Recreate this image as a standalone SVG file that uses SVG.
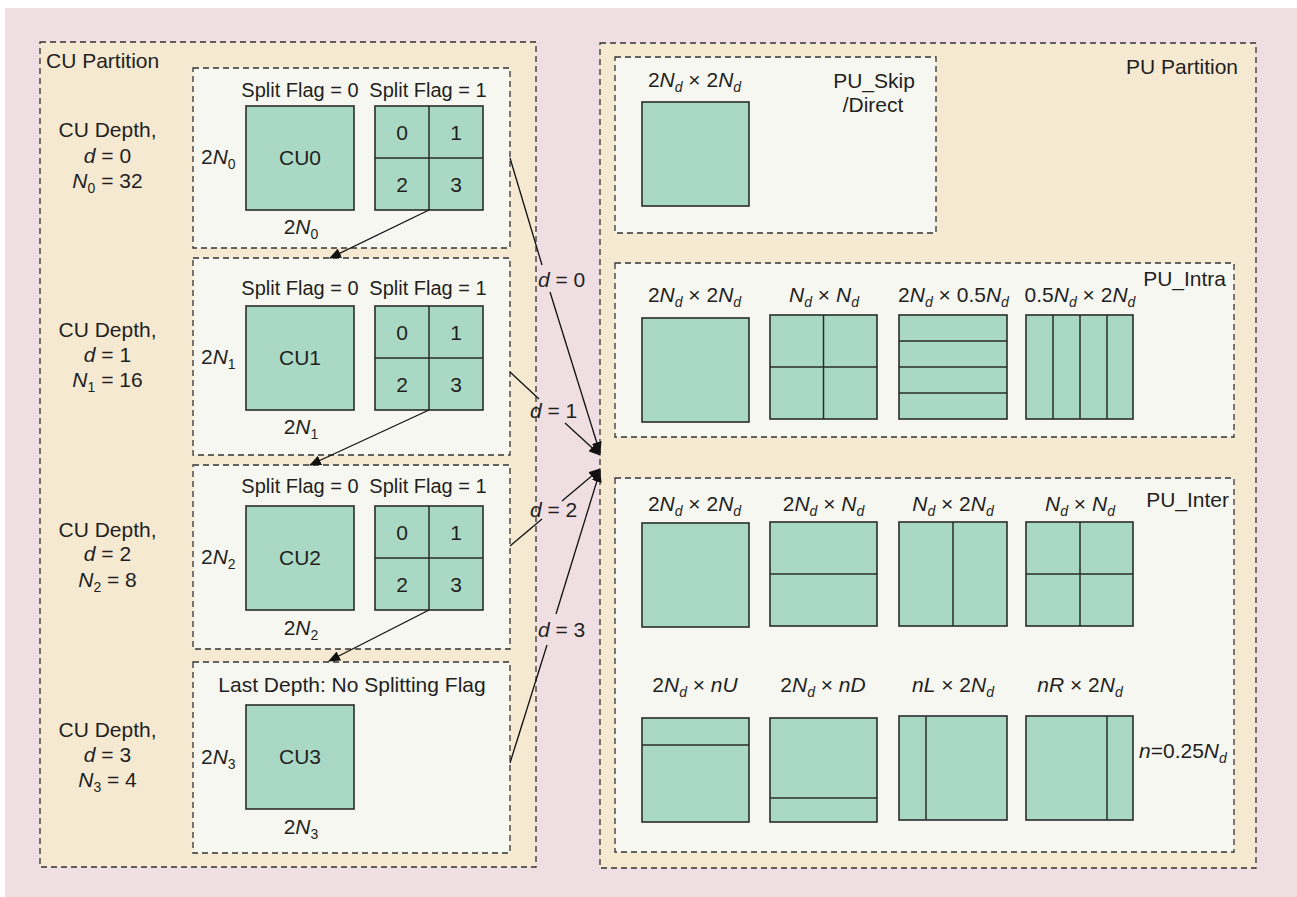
<svg xmlns="http://www.w3.org/2000/svg" width="1297" height="897" viewBox="0 0 1297 897">
<style>
text{font-family:"Liberation Sans",Arial,sans-serif;font-size:21px;fill:#231f20}
.m{text-anchor:middle}
.e{text-anchor:end}
.f20{font-size:20px}
.i{font-style:italic}
.s{font-size:14px}
.si{font-size:14px;font-style:italic}
.outer{fill:#f6e9d2;stroke:#333;stroke-width:1.3;stroke-dasharray:6 4}
.inner{fill:#f7f7f2;stroke:#333;stroke-width:1.3;stroke-dasharray:6 4}
.sq{fill:#a9d9c5;stroke:#2b2b2b;stroke-width:1.6}
.dl{stroke:#2b2b2b;stroke-width:1.5;fill:none}
.cn{stroke:#111;stroke-width:1.3;fill:none}
</style>
<defs>
<marker id="ah" markerWidth="12" markerHeight="10" refX="11" refY="5" orient="auto" markerUnits="userSpaceOnUse">
<path d="M0,0 L12,5 L0,10 Z" fill="#111"/>
</marker>
</defs>
<rect x="5" y="8" width="1292" height="889" fill="#efdfe3"/>

<g id="cu-partition">
<rect class="outer" x="40" y="42" width="496" height="825"/>
<text x="46" y="68">CU Partition</text>
</g>

<g id="cu-depth0">
<text class="m" x="107.5" y="137">CU Depth,</text>
<text class="m" x="107.5" y="163"><tspan class="i">d</tspan> = 0</text>
<text class="m" x="107.5" y="188"><tspan class="i">N</tspan><tspan class="s" dy="5">0</tspan><tspan dy="-5"> = 32</tspan></text>
<rect class="inner" x="193" y="68" width="317" height="180"/>
<text class="m f20" x="300" y="97">Split Flag = 0</text>
<text class="m f20" x="428" y="97">Split Flag = 1</text>
<rect class="sq" x="246" y="106" width="108" height="104"/>
<text class="m" x="300" y="165">CU0</text>
<rect class="sq" x="375" y="106" width="108" height="104"/>
<path class="dl" d="M429,106V210M375,158H483"/>
<text class="m" x="402" y="139.5">0</text>
<text class="m" x="456" y="139.5">1</text>
<text class="m" x="402" y="191.5">2</text>
<text class="m" x="456" y="191.5">3</text>
<text x="201" y="164">2<tspan class="i">N</tspan><tspan class="s" dy="5">0</tspan></text>
<text class="m" x="301" y="234">2<tspan class="i">N</tspan><tspan class="s" dy="5">0</tspan></text>
</g>

<g id="cu-depth1">
<text class="m" x="107.5" y="337">CU Depth,</text>
<text class="m" x="107.5" y="362"><tspan class="i">d</tspan> = 1</text>
<text class="m" x="107.5" y="387"><tspan class="i">N</tspan><tspan class="s" dy="5">1</tspan><tspan dy="-5"> = 16</tspan></text>
<rect class="inner" x="193" y="258" width="317" height="197"/>
<text class="m f20" x="300" y="295">Split Flag = 0</text>
<text class="m f20" x="428" y="295">Split Flag = 1</text>
<rect class="sq" x="246" y="306" width="108" height="104"/>
<text class="m" x="300" y="365">CU1</text>
<rect class="sq" x="375" y="306" width="108" height="104"/>
<path class="dl" d="M429,306V410M375,358H483"/>
<text class="m" x="402" y="339.5">0</text>
<text class="m" x="456" y="339.5">1</text>
<text class="m" x="402" y="391.5">2</text>
<text class="m" x="456" y="391.5">3</text>
<text x="201" y="364">2<tspan class="i">N</tspan><tspan class="s" dy="5">1</tspan></text>
<text class="m" x="301" y="434">2<tspan class="i">N</tspan><tspan class="s" dy="5">1</tspan></text>
</g>

<g id="cu-depth2">
<text class="m" x="107.5" y="537">CU Depth,</text>
<text class="m" x="107.5" y="561"><tspan class="i">d</tspan> = 2</text>
<text class="m" x="107.5" y="587"><tspan class="i">N</tspan><tspan class="s" dy="5">2</tspan><tspan dy="-5"> = 8</tspan></text>
<rect class="inner" x="193" y="465" width="317" height="184"/>
<text class="m f20" x="300" y="493">Split Flag = 0</text>
<text class="m f20" x="428" y="493">Split Flag = 1</text>
<rect class="sq" x="246" y="506" width="108" height="104"/>
<text class="m" x="300" y="565">CU2</text>
<rect class="sq" x="375" y="506" width="108" height="104"/>
<path class="dl" d="M429,506V610M375,558H483"/>
<text class="m" x="402" y="539.5">0</text>
<text class="m" x="456" y="539.5">1</text>
<text class="m" x="402" y="591.5">2</text>
<text class="m" x="456" y="591.5">3</text>
<text x="201" y="564">2<tspan class="i">N</tspan><tspan class="s" dy="5">2</tspan></text>
<text class="m" x="301" y="635">2<tspan class="i">N</tspan><tspan class="s" dy="5">2</tspan></text>
</g>

<g id="cu-depth3">
<text class="m" x="107.5" y="737">CU Depth,</text>
<text class="m" x="107.5" y="762"><tspan class="i">d</tspan> = 3</text>
<text class="m" x="107.5" y="787"><tspan class="i">N</tspan><tspan class="s" dy="5">3</tspan><tspan dy="-5"> = 4</tspan></text>
<rect class="inner" x="193" y="662" width="317" height="191"/>
<text class="m" x="352" y="692">Last Depth: No Splitting Flag</text>
<rect class="sq" x="246" y="705" width="108" height="104"/>
<text class="m" x="300" y="764">CU3</text>
<text x="201" y="764">2<tspan class="i">N</tspan><tspan class="s" dy="5">3</tspan></text>
<text class="m" x="301" y="834">2<tspan class="i">N</tspan><tspan class="s" dy="5">3</tspan></text>
</g>

<g id="pu-partition">
<rect class="outer" x="600" y="43" width="656" height="825"/>
<text class="e" x="1238" y="74">PU Partition</text>
</g>

<g id="pu-skip">
<rect class="inner" x="615" y="57" width="321" height="176"/>
<text class="m" x="694.5" y="87">2<tspan class="i">N</tspan><tspan class="si" dy="5">d</tspan><tspan dy="-5"> × 2</tspan><tspan class="i">N</tspan><tspan class="si" dy="5">d</tspan></text>
<text class="m" x="874" y="88">PU_Skip</text>
<text class="m" x="873" y="112">/Direct</text>
<rect class="sq" x="642" y="102" width="107" height="104"/>
</g>

<g id="pu-intra">
<rect class="inner" x="615" y="263" width="619" height="174"/>
<text class="e" x="1226" y="286">PU_Intra</text>
<text class="m" x="694.5" y="302">2<tspan class="i">N</tspan><tspan class="si" dy="5">d</tspan><tspan dy="-5"> × 2</tspan><tspan class="i">N</tspan><tspan class="si" dy="5">d</tspan></text>
<text class="m" x="824" y="302"><tspan class="i">N</tspan><tspan class="si" dy="5">d</tspan><tspan dy="-5"> × </tspan><tspan class="i">N</tspan><tspan class="si" dy="5">d</tspan></text>
<text class="m" x="953.5" y="302">2<tspan class="i">N</tspan><tspan class="si" dy="5">d</tspan><tspan dy="-5"> × 0.5</tspan><tspan class="i">N</tspan><tspan class="si" dy="5">d</tspan></text>
<text class="m" x="1080" y="302">0.5<tspan class="i">N</tspan><tspan class="si" dy="5">d</tspan><tspan dy="-5"> × 2</tspan><tspan class="i">N</tspan><tspan class="si" dy="5">d</tspan></text>
<rect class="sq" x="642" y="318" width="107" height="104"/>
<rect class="sq" x="770" y="315" width="107" height="104"/>
<path class="dl" d="M823.5,315V419M770,367H877"/>
<rect class="sq" x="899" y="315" width="108" height="104"/>
<path class="dl" d="M899,341H1007M899,367H1007M899,393H1007"/>
<rect class="sq" x="1026" y="315" width="107" height="104"/>
<path class="dl" d="M1053,315V419M1080,315V419M1107,315V419"/>
</g>

<g id="pu-inter">
<rect class="inner" x="615" y="478" width="619" height="374"/>
<text class="e" x="1229" y="507">PU_Inter</text>
<text class="m" x="694.5" y="511">2<tspan class="i">N</tspan><tspan class="si" dy="5">d</tspan><tspan dy="-5"> × 2</tspan><tspan class="i">N</tspan><tspan class="si" dy="5">d</tspan></text>
<text class="m" x="823.5" y="511">2<tspan class="i">N</tspan><tspan class="si" dy="5">d</tspan><tspan dy="-5"> × </tspan><tspan class="i">N</tspan><tspan class="si" dy="5">d</tspan></text>
<text class="m" x="953" y="511"><tspan class="i">N</tspan><tspan class="si" dy="5">d</tspan><tspan dy="-5"> × 2</tspan><tspan class="i">N</tspan><tspan class="si" dy="5">d</tspan></text>
<text class="m" x="1080" y="511"><tspan class="i">N</tspan><tspan class="si" dy="5">d</tspan><tspan dy="-5"> × </tspan><tspan class="i">N</tspan><tspan class="si" dy="5">d</tspan></text>
<rect class="sq" x="642" y="523" width="107" height="104"/>
<rect class="sq" x="770" y="522" width="107" height="104"/>
<path class="dl" d="M770,574H877"/>
<rect class="sq" x="899" y="522" width="108" height="104"/>
<path class="dl" d="M953,522V626"/>
<rect class="sq" x="1026" y="522" width="107" height="104"/>
<path class="dl" d="M1080,522V626M1026,574H1133"/>
<text class="m" x="695" y="692">2<tspan class="i">N</tspan><tspan class="si" dy="5">d</tspan><tspan dy="-5"> × </tspan><tspan class="i">nU</tspan></text>
<text class="m" x="823" y="692">2<tspan class="i">N</tspan><tspan class="si" dy="5">d</tspan><tspan dy="-5"> × </tspan><tspan class="i">nD</tspan></text>
<text class="m" x="953" y="692"><tspan class="i">nL</tspan> × 2<tspan class="i">N</tspan><tspan class="si" dy="5">d</tspan></text>
<text class="m" x="1080" y="692"><tspan class="i">nR</tspan> × 2<tspan class="i">N</tspan><tspan class="si" dy="5">d</tspan></text>
<rect class="sq" x="642" y="718" width="107" height="104"/>
<path class="dl" d="M642,745H749"/>
<rect class="sq" x="770" y="718" width="107" height="104"/>
<path class="dl" d="M770,798H877"/>
<rect class="sq" x="899" y="716" width="108" height="104"/>
<path class="dl" d="M926,716V820"/>
<rect class="sq" x="1026" y="716" width="107" height="104"/>
<path class="dl" d="M1107,716V820"/>
<text x="1139" y="758"><tspan class="i">n</tspan>=0.25<tspan class="i">N</tspan><tspan class="si" dy="5">d</tspan></text>
</g>

<g id="connectors">
<line class="cn" x1="429" y1="210" x2="330" y2="258" marker-end="url(#ah)"/>
<line class="cn" x1="429" y1="410" x2="310" y2="465" marker-end="url(#ah)"/>
<line class="cn" x1="429" y1="610" x2="329" y2="661" marker-end="url(#ah)"/>
<line class="cn" x1="510" y1="158" x2="542" y2="265"/>
<line class="cn" x1="550" y1="292" x2="600" y2="453" marker-end="url(#ah)"/>
<text x="538" y="287"><tspan class="i">d</tspan> = 0</text>
<line class="cn" x1="510" y1="372" x2="539" y2="399"/>
<line class="cn" x1="565" y1="423" x2="600" y2="455" marker-end="url(#ah)"/>
<text x="530" y="418"><tspan class="i">d</tspan> = 1</text>
<line class="cn" x1="510" y1="546" x2="542" y2="519"/>
<line class="cn" x1="562" y1="501" x2="600" y2="469" marker-end="url(#ah)"/>
<text x="530" y="517"><tspan class="i">d</tspan> = 2</text>
<line class="cn" x1="510" y1="763" x2="547" y2="645"/>
<line class="cn" x1="556" y1="614" x2="600" y2="471" marker-end="url(#ah)"/>
<text x="538" y="637"><tspan class="i">d</tspan> = 3</text>
</g>
</svg>
